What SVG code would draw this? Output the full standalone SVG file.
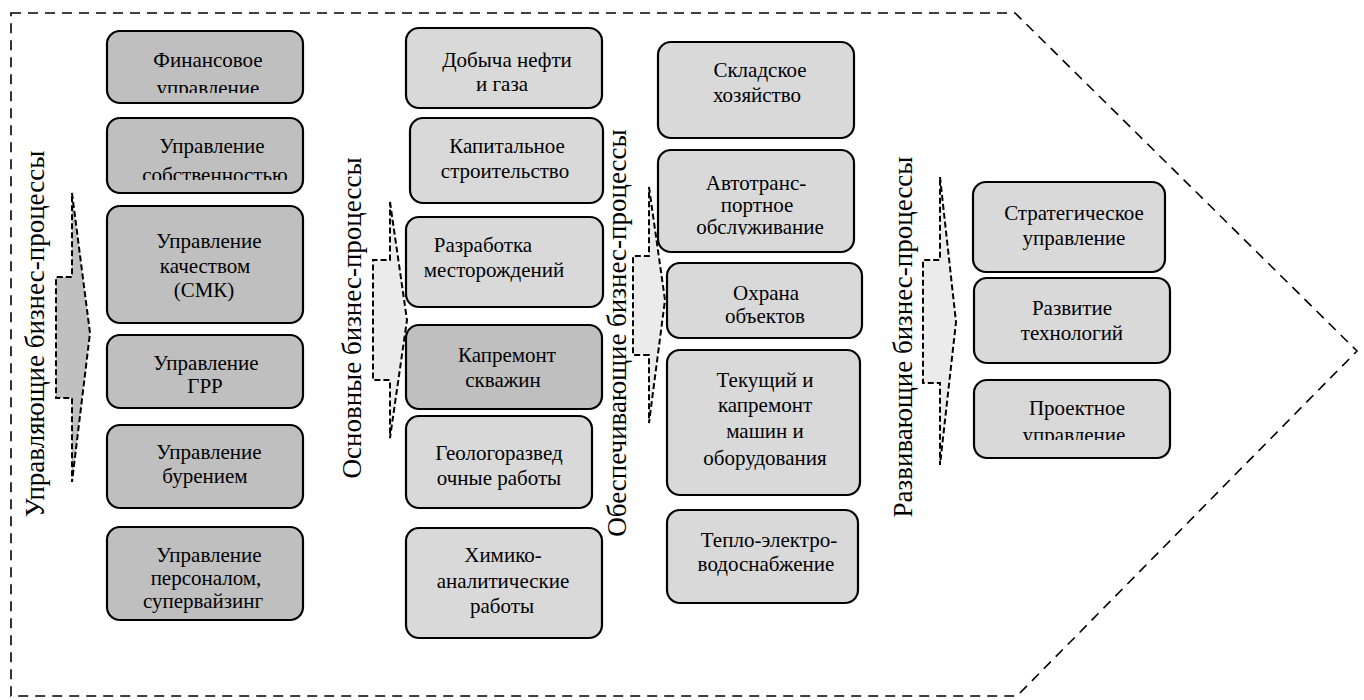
<svg xmlns="http://www.w3.org/2000/svg" width="1364" height="700" viewBox="0 0 1364 700">
<style>
.box{stroke:#000;stroke-width:2.2}
.dark{fill:#bfbfbf}
.light{fill:#d9d9d9}
.t{font-family:"Liberation Serif","Times New Roman",serif;font-size:21px;fill:#000;text-anchor:middle}
.lbl{font-family:"Liberation Serif","Times New Roman",serif;font-size:27px;fill:#000;text-anchor:middle}
.arr{stroke:#000;stroke-width:2;stroke-dasharray:6 3}
.arrDark{fill:#c0c0c0}
.arrLight{fill:#ebebeb}
.border{fill:none;stroke:#000;stroke-width:1.6;stroke-dasharray:10 7}
</style>
<defs>
<clipPath id="c1"><rect x="107" y="31" width="196" height="62"/></clipPath>
<clipPath id="c2"><rect x="107" y="118" width="196" height="62"/></clipPath>
<clipPath id="c3"><rect x="658" y="150" width="196" height="85"/></clipPath>
<clipPath id="c4"><rect x="974" y="380" width="196" height="60"/></clipPath>
</defs>
<rect width="1364" height="700" fill="#fff"/>
<g id="border"><path class="border" d="M11,13 L1015,13 L1357,351 L1017,696 L11,696 Z"/></g>

<g id="labels">
<text class="lbl" transform="translate(44,334) rotate(-90)">Управляющие бизнес-процессы</text>
<text class="lbl" transform="translate(361,318) rotate(-90)">Основные бизнес-процессы</text>
<text class="lbl" transform="translate(626,333) rotate(-90)">Обеспечивающие бизнес-процессы</text>
<text class="lbl" transform="translate(912,337) rotate(-90)">Развивающие бизнес-процессы</text>
</g>

<g id="connectors">
<path class="arr arrDark" d="M72,193 L90,333 L72,482 L72,398 L56,398 L56,277 L72,277 Z"/>
<path class="arr arrLight" d="M390,202 L407,320 L390,438 L390,380 L373,380 L373,260 L390,260 Z"/>
<path class="arr arrLight" d="M649,187 L665,300 L649,423 L649,355 L633,355 L633,256 L649,256 Z"/>
<path class="arr arrLight" d="M940,177 L956,322 L940,465 L940,383 L923,383 L923,260 L940,260 Z"/>
</g>

<g id="n-fin"><rect class="box dark" x="107" y="31" width="196" height="72" rx="13"/>
<g clip-path="url(#c1)"><text class="t" x="208" y="67">Финансовое</text><text class="t" x="208" y="95">управление</text></g></g>
<g id="n-sob"><rect class="box dark" x="107" y="118" width="196" height="75" rx="13"/>
<g clip-path="url(#c2)"><text class="t" x="212" y="153">Управление</text><text class="t" x="215" y="182">собственностью</text></g></g>
<g id="n-smk"><rect class="box dark" x="107" y="206" width="196" height="117" rx="13"/>
<text class="t" x="209" y="248">Управление</text><text class="t" x="205" y="273">качеством</text><text class="t" x="204" y="297">(СМК)</text></g>
<g id="n-grr"><rect class="box dark" x="107" y="335" width="196" height="73" rx="13"/>
<text class="t" x="206" y="370">Управление</text><text class="t" x="205" y="393">ГРР</text></g>
<g id="n-bur"><rect class="box dark" x="107" y="425" width="196" height="83" rx="13"/>
<text class="t" x="209" y="459">Управление</text><text class="t" x="205" y="483">бурением</text></g>
<g id="n-pers"><rect class="box dark" x="107" y="527" width="196" height="93" rx="13"/>
<text class="t" x="209" y="562">Управление</text><text class="t" x="206" y="585">персоналом,</text><text class="t" x="203" y="608">супервайзинг</text></g>

<g id="n-dob"><rect class="box light" x="406" y="28" width="196" height="80" rx="13"/>
<text class="t" x="507" y="67">Добыча нефти</text><text class="t" x="502" y="91">и газа</text></g>
<g id="n-kap"><rect class="box light" x="410" y="118" width="193" height="85" rx="13"/>
<text class="t" x="507" y="153">Капитальное</text><text class="t" x="505" y="178">строительство</text></g>
<g id="n-raz"><rect class="box light" x="406" y="217" width="197" height="90" rx="13"/>
<text class="t" x="483" y="252">Разработка</text><text class="t" x="494" y="277">месторождений</text></g>
<g id="n-krs"><rect class="box dark" x="406" y="325" width="196" height="84" rx="13"/>
<text class="t" x="507" y="362">Капремонт</text><text class="t" x="503" y="387">скважин</text></g>
<g id="n-geo"><rect class="box light" x="406" y="416" width="186" height="92" rx="13"/>
<text class="t" x="499" y="460">Геологоразвед</text><text class="t" x="499" y="485">очные работы</text></g>
<g id="n-him"><rect class="box light" x="406" y="528" width="196" height="110" rx="13"/>
<text class="t" x="503" y="562">Химико-</text><text class="t" x="503" y="588">аналитические</text><text class="t" x="502" y="613">работы</text></g>

<g id="n-skl"><rect class="box light" x="658" y="42" width="196" height="96" rx="13"/>
<text class="t" x="760" y="77">Складское</text><text class="t" x="757" y="102">хозяйство</text></g>
<g id="n-avt"><rect class="box light" x="658" y="150" width="196" height="102" rx="13"/>
<g clip-path="url(#c3)"><text class="t" x="756" y="190">Автотранс-</text><text class="t" x="757" y="212">портное</text><text class="t" x="760" y="234">обслуживание</text></g></g>
<g id="n-ohr"><rect class="box light" x="667" y="263" width="195" height="75" rx="13"/>
<text class="t" x="766" y="300">Охрана</text><text class="t" x="765" y="323">объектов</text></g>
<g id="n-tek"><rect class="box light" x="667" y="350" width="193" height="145" rx="13"/>
<text class="t" x="765" y="387">Текущий и</text><text class="t" x="765" y="412">капремонт</text><text class="t" x="765" y="438">машин и</text><text class="t" x="765" y="465">оборудования</text></g>
<g id="n-tep"><rect class="box light" x="667" y="510" width="191" height="93" rx="13"/>
<text class="t" x="769" y="547">Тепло-электро-</text><text class="t" x="766" y="571">водоснабжение</text></g>

<g id="n-str"><rect class="box light" x="973" y="182" width="192" height="90" rx="13"/>
<text class="t" x="1074" y="220">Стратегическое</text><text class="t" x="1074" y="245">управление</text></g>
<g id="n-tech"><rect class="box light" x="974" y="278" width="196" height="85" rx="13"/>
<text class="t" x="1072" y="315">Развитие</text><text class="t" x="1072" y="340">технологий</text></g>
<g id="n-proj"><rect class="box light" x="974" y="380" width="196" height="78" rx="13"/>
<g clip-path="url(#c4)"><text class="t" x="1077" y="415">Проектное</text><text class="t" x="1074" y="442">управление</text></g></g>
</svg>
